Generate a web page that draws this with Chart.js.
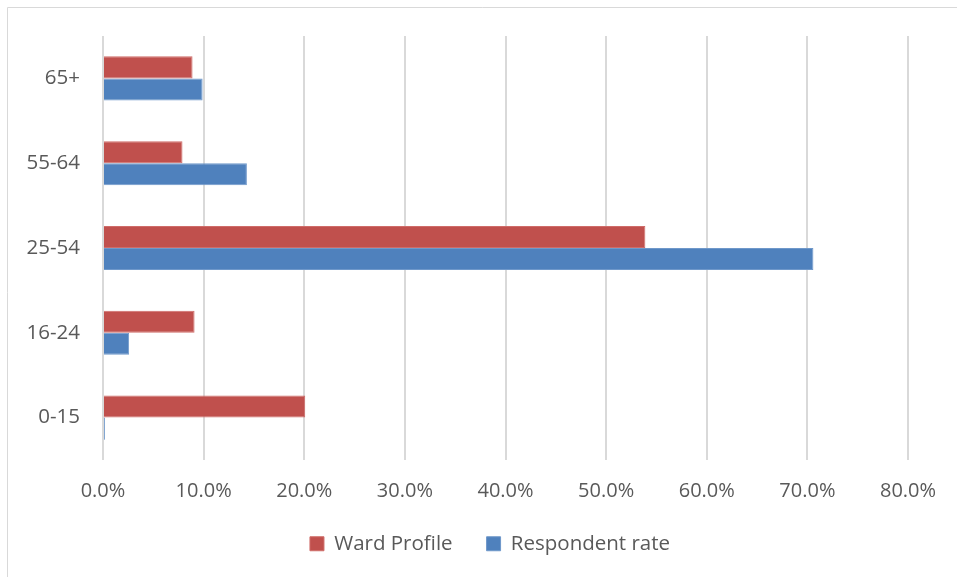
<!DOCTYPE html>
<html>
<head>
<meta charset="utf-8">
<script src="https://cdn.jsdelivr.net/npm/chart.js@4"></script>
<style>
  html, body { margin: 0; padding: 0; background: #fff; }
  #wrap { width: 957px; height: 577px; }
</style>
</head>
<body>
<div id="wrap"><canvas id="ageChart" width="957" height="577"></canvas></div>
<script>
// age bands, top to bottom as shown
const ageBands = ['65+', '55-64', '25-54', '16-24', '0-15'];
const wardProfile = [8.9, 7.9, 53.9, 9.1, 20.1];
const respondentRate = [9.9, 14.3, 70.6, 2.6, 0.2];
const xTicks = [0, 10, 20, 30, 40, 50, 60, 70, 80];

const textColor = '#595959';
const fontFamily = '"Open Sans", "Liberation Sans", sans-serif';

// light frame on top and left, like the cropped Excel chart border
const frame = {
  id: 'frame',
  beforeDraw(chart) {
    const ctx = chart.ctx;
    ctx.save();
    ctx.strokeStyle = '#d9d9d9';
    ctx.lineWidth = 1;
    ctx.beginPath();
    ctx.moveTo(7.5, chart.height);
    ctx.lineTo(7.5, 7.5);
    ctx.lineTo(chart.width, 7.5);
    ctx.stroke();
    ctx.restore();
  }
};

// legend sits a little right of the canvas centre in the original
const legendShift = {
  id: 'legendShift',
  afterLayout(chart) {
    chart.legend.left += 36;
    chart.legend.right += 36;
  }
};

const ctx = document.getElementById('ageChart').getContext('2d');
new Chart(ctx, {
  type: 'bar',
  data: {
    labels: ageBands,
    datasets: [
      {
        label: 'Ward Profile',
        data: wardProfile,
        backgroundColor: '#C0504D',
        borderColor: '#cf6c69',
        borderWidth: 1,
      },
      {
        label: 'Respondent rate',
        data: respondentRate,
        backgroundColor: '#4F81BD',
        borderColor: '#6f98ca',
        borderWidth: 1,
      },
    ],
  },
  options: {
    indexAxis: 'y',
    responsive: false,
    animation: false,
    categoryPercentage: 0.52,
    barPercentage: 1.0,
    layout: { padding: { left: 0, right: 49, top: 36, bottom: 13 } },
    scales: {
      x: {
        min: 0,
        max: 80,
        afterBuildTicks(scale) {
          scale.ticks = xTicks.map(v => ({ value: v }));
        },
        afterFit(scale) { scale.height = 39.5; },
        grid: { color: '#d9d9d9', lineWidth: 2, drawTicks: false },
        border: { display: false },
        ticks: {
          padding: 19,
          color: textColor,
          font: { family: fontFamily, size: 20 },
          callback: v => v.toFixed(1) + '%',
        },
      },
      y: {
        afterFit(scale) { scale.width = 103; },
        grid: { display: false, drawTicks: false },
        border: { display: false },
        ticks: {
          padding: 23,
          color: textColor,
          font: { family: fontFamily, size: 20.5 },
        },
      },
    },
    plugins: {
      legend: {
        position: 'bottom',
        labels: {
          boxWidth: 14,
          boxHeight: 14,
          padding: 34,
          color: textColor,
          font: { family: fontFamily, size: 20.5 },
        },
      },
      tooltip: { enabled: false },
    },
  },
  plugins: [frame, legendShift],
});
</script>
</body>
</html>
